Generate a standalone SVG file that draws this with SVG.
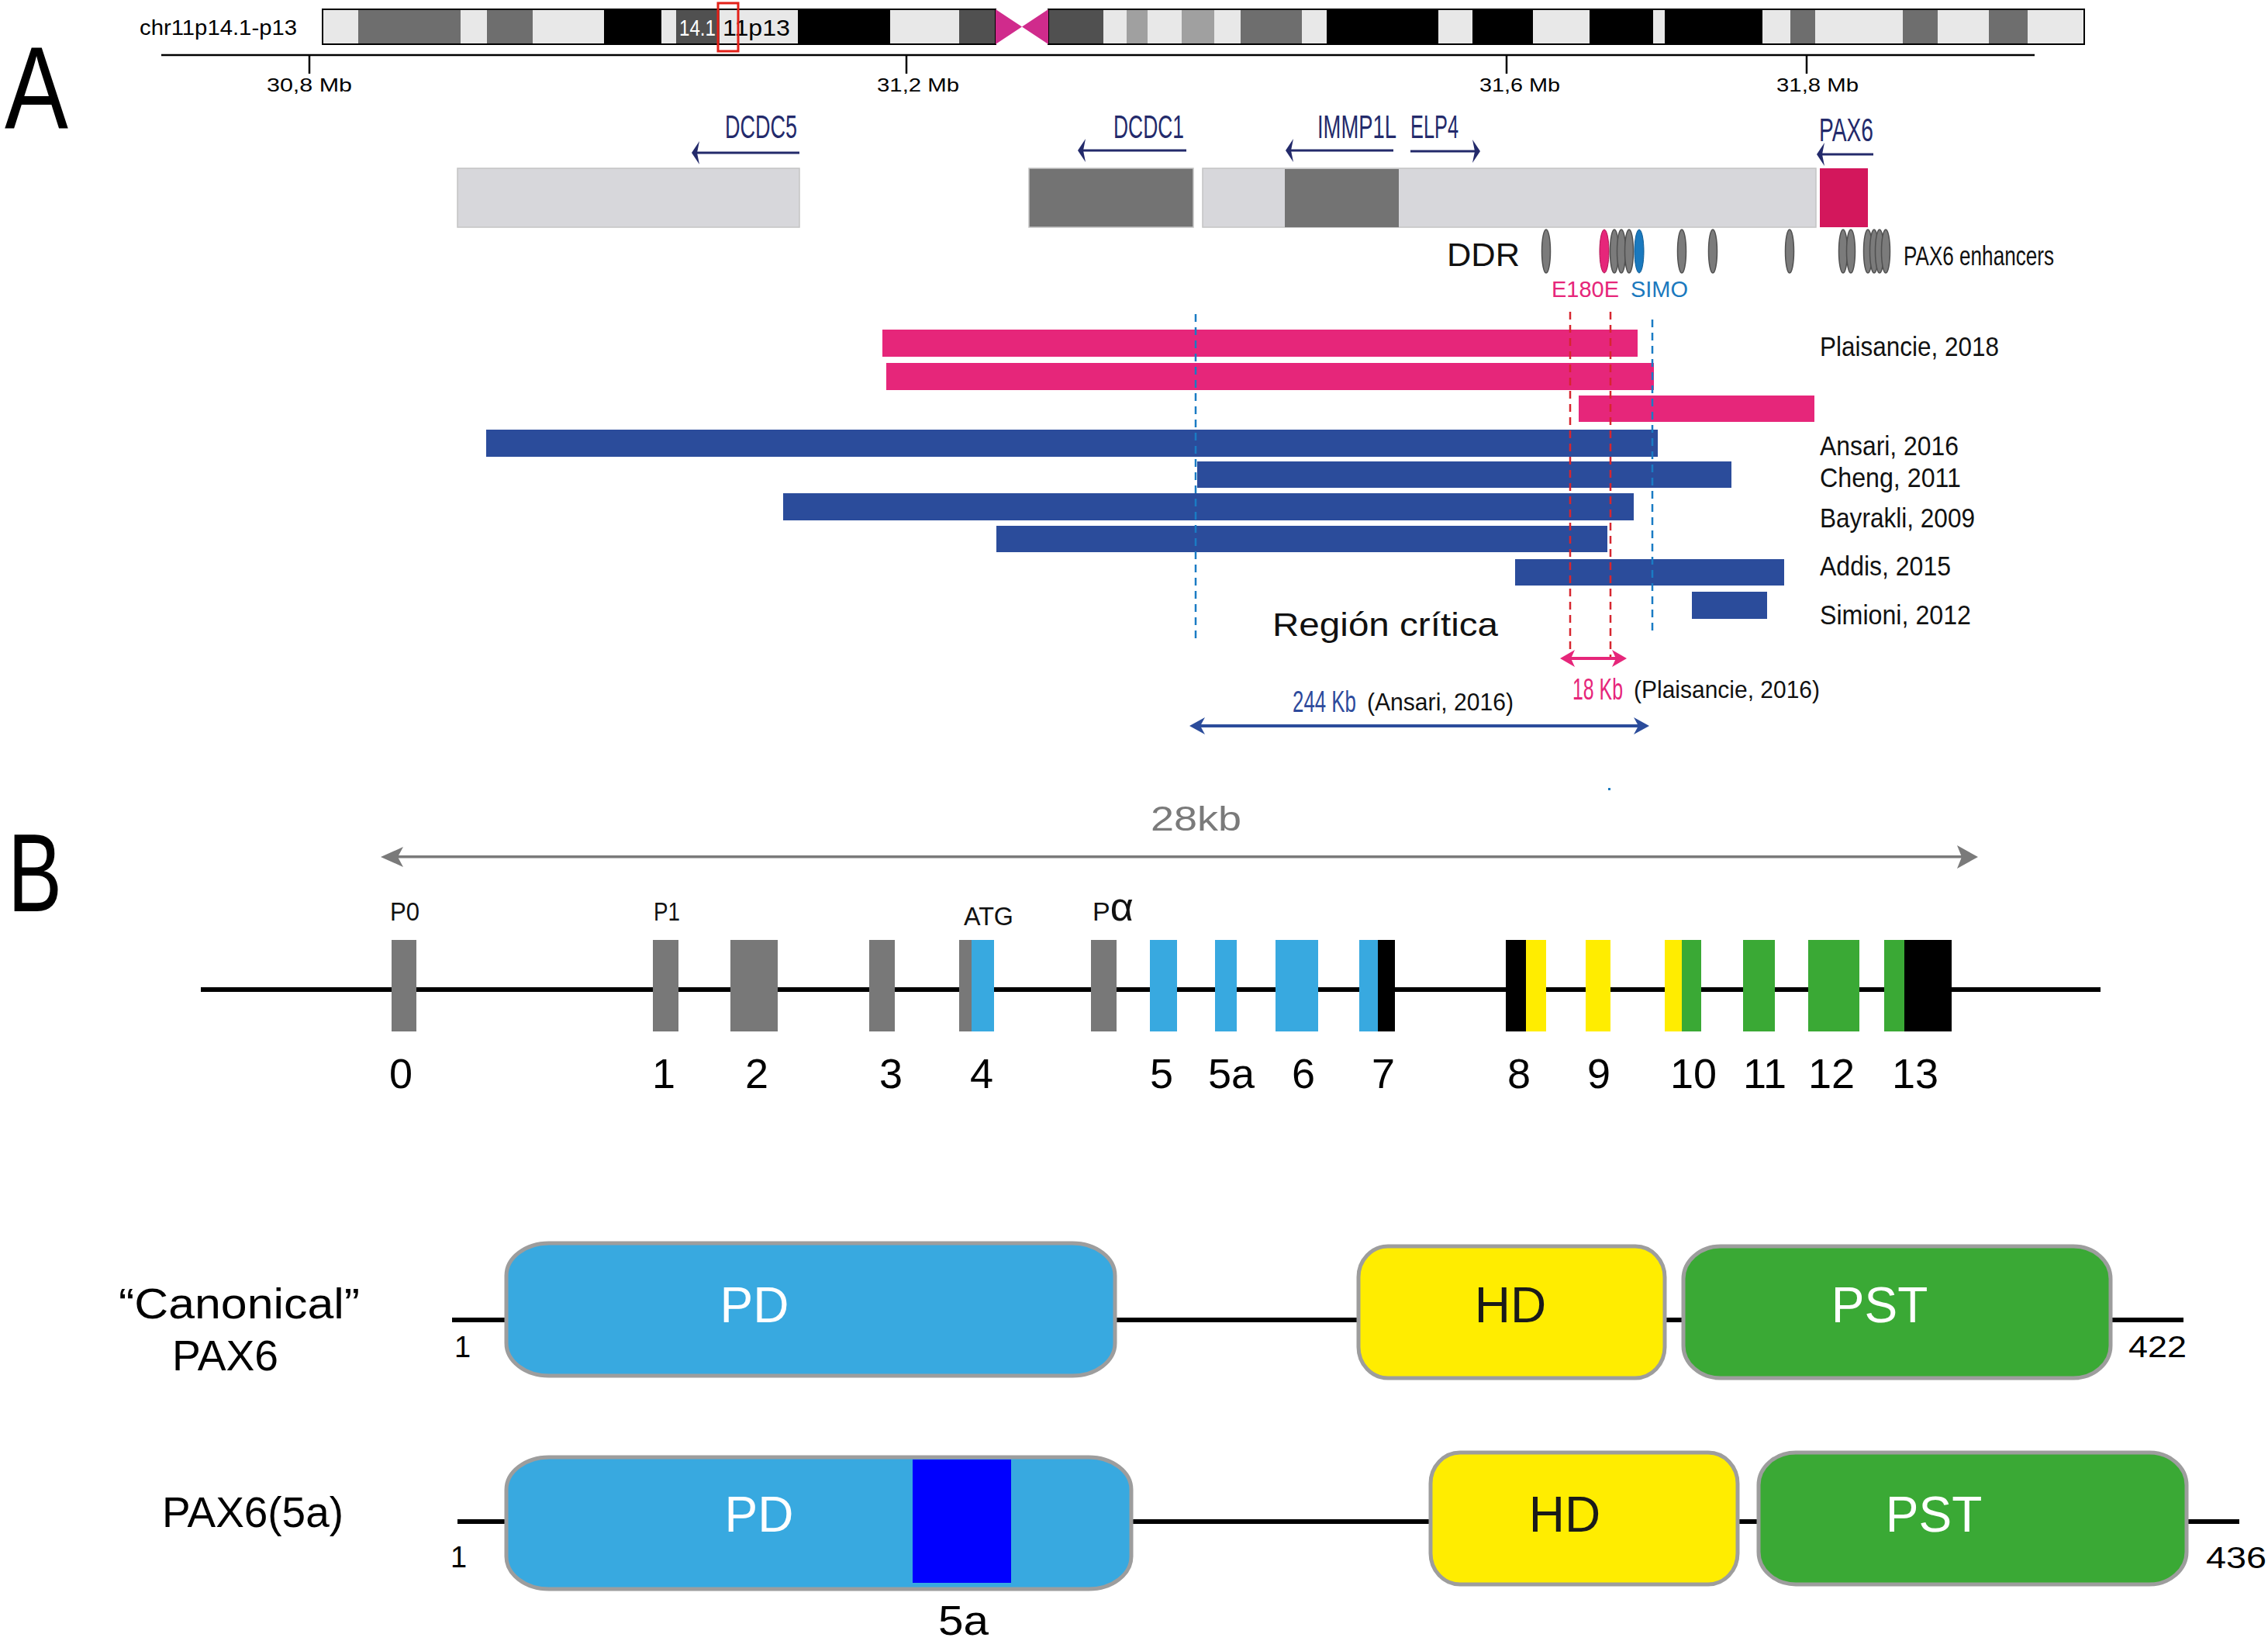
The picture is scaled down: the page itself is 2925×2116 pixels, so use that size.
<svg xmlns="http://www.w3.org/2000/svg" width="2925" height="2116" viewBox="0 0 2925 2116">
<style>
text{font-family:"Liberation Sans","Open Sans",Arial,sans-serif}
.L{fill:#e8e8e8}.G{fill:#6e6e6e}.D{fill:#505050}.M{fill:#a0a0a0}.K{fill:#000}
.tick{stroke:#000;stroke-width:2.5}
.mb{font-size:24px;fill:#000}
.gn{font-size:42px;fill:#232a6b}
.gbox{stroke:#c4c4c4;stroke-width:1.5}
.enh{fill:#7b7b7b;stroke:#505050;stroke-width:1.5}
.ref{font-size:35px;fill:#111}
.pink{fill:#e6267a}.blue{fill:#2b4c9b}
.dashb{stroke:#1a7bc4;stroke-width:2.5;stroke-dasharray:10 7;fill:none}
.dashr{stroke:#d6262f;stroke-width:2.5;stroke-dasharray:10 7;fill:none}
.exg{fill:#787878}.exb{fill:#38a9e0}.exy{fill:#ffed00}.exgr{fill:#3aa935}.exk{fill:#000}
.pl{font-size:34px;fill:#111}
.num{font-size:54px;fill:#000;text-anchor:middle}
.dom{stroke:#9d9d9d;stroke-width:5}
.dt{font-size:64px;text-anchor:middle}
.plab{font-size:56px;fill:#000}
.aa{font-size:38px;fill:#000}
</style>
<rect width="2925" height="2116" fill="#fff"/>

<text x="6" y="165" font-size="150" textLength="82" lengthAdjust="spacingAndGlyphs">A</text>
<text x="10" y="1175" font-size="142" textLength="70" lengthAdjust="spacingAndGlyphs">B</text>

<g id="chromosome">
<text x="180" y="45" font-size="28" textLength="203" lengthAdjust="spacingAndGlyphs">chr11p14.1-p13</text>
<rect class="L" x="416" y="12" width="46" height="45"/>
<rect class="G" x="462" y="12" width="132" height="45"/>
<rect class="L" x="594" y="12" width="34" height="45"/>
<rect class="G" x="628" y="12" width="59" height="45"/>
<rect class="L" x="687" y="12" width="92" height="45"/>
<rect class="K" x="779" y="12" width="74" height="45"/>
<rect class="L" x="853" y="12" width="19" height="45"/>
<rect class="D" x="872" y="12" width="56" height="45"/>
<rect class="L" x="928" y="12" width="101" height="45"/>
<rect class="K" x="1029" y="12" width="119" height="45"/>
<rect class="L" x="1148" y="12" width="89" height="45"/>
<rect class="D" x="1237" y="12" width="47" height="45"/>
<rect class="D" x="1352" y="12" width="71" height="45"/>
<rect class="L" x="1423" y="12" width="30" height="45"/>
<rect class="M" x="1453" y="12" width="27" height="45"/>
<rect class="L" x="1480" y="12" width="44" height="45"/>
<rect class="M" x="1524" y="12" width="42" height="45"/>
<rect class="L" x="1566" y="12" width="34" height="45"/>
<rect class="G" x="1600" y="12" width="79" height="45"/>
<rect class="L" x="1679" y="12" width="32" height="45"/>
<rect class="K" x="1711" y="12" width="144" height="45"/>
<rect class="L" x="1855" y="12" width="44" height="45"/>
<rect class="K" x="1899" y="12" width="78" height="45"/>
<rect class="L" x="1977" y="12" width="73" height="45"/>
<rect class="K" x="2050" y="12" width="82" height="45"/>
<rect class="L" x="2132" y="12" width="15" height="45"/>
<rect class="K" x="2147" y="12" width="126" height="45"/>
<rect class="L" x="2273" y="12" width="36" height="45"/>
<rect class="G" x="2309" y="12" width="32" height="45"/>
<rect class="L" x="2341" y="12" width="113" height="45"/>
<rect class="G" x="2454" y="12" width="45" height="45"/>
<rect class="L" x="2499" y="12" width="66" height="45"/>
<rect class="G" x="2565" y="12" width="50" height="45"/>
<rect class="L" x="2615" y="12" width="73" height="45"/>
<rect x="416" y="12" width="868" height="45" fill="none" stroke="#000" stroke-width="2"/>
<rect x="1352" y="12" width="1336" height="45" fill="none" stroke="#000" stroke-width="2"/>
<polygon points="1284,12 1318,34.5 1352,12 1352,57 1318,34.5 1284,57" fill="#d02b8c"/>
<text x="876" y="46" font-size="29" fill="#fff" textLength="47" lengthAdjust="spacingAndGlyphs">14.1</text>
<text x="932" y="46" font-size="29" fill="#000" textLength="87" lengthAdjust="spacingAndGlyphs">11p13</text>
<rect x="926" y="4" width="26" height="62" fill="none" stroke="#e32119" stroke-width="3"/>
</g>

<g id="axis">
<line x1="208" y1="71" x2="2624" y2="71" stroke="#000" stroke-width="2.5"/>
<line class="tick" x1="399" y1="71" x2="399" y2="95"/>
<line class="tick" x1="1169" y1="71" x2="1169" y2="95"/>
<line class="tick" x1="1943" y1="71" x2="1943" y2="95"/>
<line class="tick" x1="2330" y1="71" x2="2330" y2="95"/>
<text class="mb" x="344" y="118" textLength="110" lengthAdjust="spacingAndGlyphs">30,8 Mb</text>
<text class="mb" x="1131" y="118" textLength="106" lengthAdjust="spacingAndGlyphs">31,2 Mb</text>
<text class="mb" x="1908" y="118" textLength="104" lengthAdjust="spacingAndGlyphs">31,6 Mb</text>
<text class="mb" x="2291" y="118" textLength="106" lengthAdjust="spacingAndGlyphs">31,8 Mb</text>
</g>

<g id="genes">
<rect class="gbox" x="590" y="217" width="441" height="76" fill="#d7d7db"/>
<rect class="gbox" x="1327" y="217" width="212" height="76" fill="#737373"/>
<rect class="gbox" x="1551" y="217" width="791" height="76" fill="#d7d7db"/>
<rect x="1657" y="218" width="147" height="75" fill="#737373"/>
<rect x="2347" y="217" width="62" height="76" fill="#d3175c"/>
<text class="gn" x="935" y="178" textLength="93" lengthAdjust="spacingAndGlyphs">DCDC5</text>
<text class="gn" x="1436" y="178" textLength="91" lengthAdjust="spacingAndGlyphs">DCDC1</text>
<text class="gn" x="1699" y="178" textLength="102" lengthAdjust="spacingAndGlyphs">IMMP1L</text>
<text class="gn" x="1819" y="178" textLength="62" lengthAdjust="spacingAndGlyphs">ELP4</text>
<text class="gn" x="2346" y="182" textLength="70" lengthAdjust="spacingAndGlyphs">PAX6</text>
</g>

<g id="enhancers">
<ellipse class="enh" cx="1994" cy="324" rx="5.5" ry="28"/>
<ellipse cx="2069" cy="324" rx="6" ry="28" fill="#e6267a" stroke="#b0104f" stroke-width="1"/>
<ellipse class="enh" cx="2082" cy="324" rx="5.5" ry="28"/>
<ellipse class="enh" cx="2091" cy="324" rx="5.5" ry="28"/>
<ellipse class="enh" cx="2101" cy="324" rx="5.5" ry="28"/>
<ellipse cx="2114" cy="324" rx="6" ry="28" fill="#1a79be" stroke="#0d5a93" stroke-width="1"/>
<ellipse class="enh" cx="2169" cy="324" rx="5.5" ry="28"/>
<ellipse class="enh" cx="2209" cy="324" rx="5.5" ry="28"/>
<ellipse class="enh" cx="2308" cy="324" rx="5.5" ry="28"/>
<ellipse class="enh" cx="2377" cy="324" rx="5.5" ry="28"/>
<ellipse class="enh" cx="2387" cy="324" rx="5.5" ry="28"/>
<ellipse class="enh" cx="2409" cy="324" rx="5.5" ry="28"/>
<ellipse class="enh" cx="2417" cy="324" rx="5.5" ry="28"/>
<ellipse class="enh" cx="2424" cy="324" rx="5.5" ry="28"/>
<ellipse class="enh" cx="2432" cy="324" rx="5.5" ry="28"/>
<text x="1866" y="343" font-size="42" fill="#111" textLength="94" lengthAdjust="spacingAndGlyphs">DDR</text>
<text x="2455" y="342" font-size="35" fill="#111" textLength="194" lengthAdjust="spacingAndGlyphs">PAX6 enhancers</text>
<text x="2001" y="383" font-size="30" fill="#e6267a" textLength="87" lengthAdjust="spacingAndGlyphs">E180E</text>
<text x="2103" y="383" font-size="30" fill="#1a79be" textLength="74" lengthAdjust="spacingAndGlyphs">SIMO</text>
</g>

<g id="deletions">
<rect class="pink" x="1138" y="425" width="974" height="35"/>
<rect class="pink" x="1143" y="468" width="990" height="35"/>
<rect class="pink" x="2036" y="510" width="304" height="34"/>
<rect class="blue" x="627" y="554" width="1511" height="35"/>
<rect class="blue" x="1544" y="595" width="689" height="34"/>
<rect class="blue" x="1010" y="636" width="1097" height="35"/>
<rect class="blue" x="1285" y="678" width="788" height="34"/>
<rect class="blue" x="1954" y="721" width="347" height="34"/>
<rect class="blue" x="2182" y="763" width="97" height="35"/>
<text class="ref" x="2347" y="459" textLength="231" lengthAdjust="spacingAndGlyphs">Plaisancie, 2018</text>
<text class="ref" x="2347" y="587" textLength="179" lengthAdjust="spacingAndGlyphs">Ansari, 2016</text>
<text class="ref" x="2347" y="628" textLength="182" lengthAdjust="spacingAndGlyphs">Cheng, 2011</text>
<text class="ref" x="2347" y="680" textLength="200" lengthAdjust="spacingAndGlyphs">Bayrakli, 2009</text>
<text class="ref" x="2347" y="742" textLength="169" lengthAdjust="spacingAndGlyphs">Addis, 2015</text>
<text class="ref" x="2347" y="805" textLength="195" lengthAdjust="spacingAndGlyphs">Simioni, 2012</text>
<text x="1641" y="820" font-size="42" fill="#111" textLength="291" lengthAdjust="spacingAndGlyphs">Región crítica</text>
<text x="1667" y="918" font-size="38" fill="#2d4a9c" textLength="82" lengthAdjust="spacingAndGlyphs">244 Kb</text>
<text x="1763" y="916" font-size="32" fill="#111" textLength="189" lengthAdjust="spacingAndGlyphs">(Ansari, 2016)</text>
<text x="2028" y="902" font-size="38" fill="#e6267a" textLength="65" lengthAdjust="spacingAndGlyphs">18 Kb</text>
<text x="2107" y="900" font-size="32" fill="#111" textLength="240" lengthAdjust="spacingAndGlyphs">(Plaisancie, 2016)</text>
<rect x="2074" y="1016" width="3" height="3" fill="#1a79be"/>
</g>

<g id="connectors">
<line class="dashb" x1="1542" y1="405" x2="1542" y2="825"/>
<line class="dashb" x1="2131" y1="412" x2="2131" y2="820"/>
<line class="dashr" x1="2025" y1="402" x2="2025" y2="848"/>
<line class="dashr" x1="2077" y1="402" x2="2077" y2="848"/>
<g fill="#232a6b" stroke="none">
<rect x="898" y="195.5" width="133" height="3"/>
<path d="M892,197 L902,182 L899,197 L902,212 Z"/>
<rect x="1396" y="192.5" width="134" height="3"/>
<path d="M1390,194 L1400,179 L1397,194 L1400,209 Z"/>
<rect x="1664" y="192.5" width="133" height="3"/>
<path d="M1658,194 L1668,179 L1665,194 L1668,209 Z"/>
<rect x="1819" y="193.5" width="84" height="3"/>
<path d="M1909,195 L1899,180 L1902,195 L1899,210 Z"/>
<rect x="2349" y="197.5" width="67" height="3"/>
<path d="M2343,199 L2353,184 L2350,199 L2353,214 Z"/>
</g>
<g fill="#e6267a">
<rect x="2025" y="847" width="60" height="4"/>
<path d="M2012,849 L2031,838 L2026,849 L2031,860 Z"/>
<path d="M2098,849 L2079,838 L2084,849 L2079,860 Z"/>
</g>
<g fill="#2b4c9b">
<rect x="1548" y="934" width="565" height="4"/>
<path d="M1534,936 L1554,925 L1548,936 L1554,947 Z"/>
<path d="M2127,936 L2107,925 L2113,936 L2107,947 Z"/>
</g>
<g fill="#7a7a7a">
<rect x="510" y="1103" width="2022" height="3.5"/>
<path d="M491,1105 L520,1092 L513,1105 L520,1118 Z"/>
<path d="M2551,1105 L2524,1090 L2530,1105 L2524,1120 Z"/>
</g>
<line x1="259" y1="1276" x2="2709" y2="1276" stroke="#000" stroke-width="6"/>
<line x1="583" y1="1702" x2="2816" y2="1702" stroke="#000" stroke-width="6"/>
<line x1="590" y1="1962" x2="2888" y2="1962" stroke="#000" stroke-width="6"/>
</g>

<text x="1484" y="1071" font-size="44" fill="#7a7a7a" textLength="117" lengthAdjust="spacingAndGlyphs">28kb</text>

<g id="exons">
<rect class="exg" x="505" y="1212" width="32" height="118"/>
<rect class="exg" x="842" y="1212" width="33" height="118"/>
<rect class="exg" x="942" y="1212" width="61" height="118"/>
<rect class="exg" x="1121" y="1212" width="33" height="118"/>
<rect class="exg" x="1237" y="1212" width="16" height="118"/>
<rect class="exb" x="1253" y="1212" width="29" height="118"/>
<rect class="exg" x="1407" y="1212" width="33" height="118"/>
<rect class="exb" x="1483" y="1212" width="35" height="118"/>
<rect class="exb" x="1567" y="1212" width="28" height="118"/>
<rect class="exb" x="1645" y="1212" width="55" height="118"/>
<rect class="exb" x="1753" y="1212" width="24" height="118"/>
<rect class="exk" x="1777" y="1212" width="22" height="118"/>
<rect class="exk" x="1942" y="1212" width="26" height="118"/>
<rect class="exy" x="1968" y="1212" width="26" height="118"/>
<rect class="exy" x="2045" y="1212" width="32" height="118"/>
<rect class="exy" x="2147" y="1212" width="22" height="118"/>
<rect class="exgr" x="2169" y="1212" width="25" height="118"/>
<rect class="exgr" x="2248" y="1212" width="41" height="118"/>
<rect class="exgr" x="2332" y="1212" width="66" height="118"/>
<rect class="exgr" x="2430" y="1212" width="26" height="118"/>
<rect class="exk" x="2456" y="1212" width="61" height="118"/>
<text class="pl" x="503" y="1187" textLength="38" lengthAdjust="spacingAndGlyphs">P0</text>
<text class="pl" x="843" y="1187" textLength="34" lengthAdjust="spacingAndGlyphs">P1</text>
<text class="pl" x="1243" y="1193" textLength="64" lengthAdjust="spacingAndGlyphs">ATG</text>
<text class="pl" x="1409" y="1187">P<tspan font-size="52">α</tspan></text>
<text class="num" x="517" y="1403">0</text>
<text class="num" x="856" y="1403">1</text>
<text class="num" x="976" y="1403">2</text>
<text class="num" x="1149" y="1403">3</text>
<text class="num" x="1266" y="1403">4</text>
<text class="num" x="1498" y="1403">5</text>
<text class="num" x="1588" y="1403">5a</text>
<text class="num" x="1681" y="1403">6</text>
<text class="num" x="1784" y="1403">7</text>
<text class="num" x="1959" y="1403">8</text>
<text class="num" x="2062" y="1403">9</text>
<text class="num" x="2184" y="1403">10</text>
<text class="num" x="2276" y="1403">11</text>
<text class="num" x="2362" y="1403">12</text>
<text class="num" x="2470" y="1403">13</text>
</g>

<g id="canonical">
<text class="plab" x="153" y="1700" textLength="311" lengthAdjust="spacingAndGlyphs">“Canonical”</text>
<text class="plab" x="222" y="1767" textLength="137" lengthAdjust="spacingAndGlyphs">PAX6</text>
<text class="aa" x="586" y="1750">1</text>
<rect class="dom" x="653" y="1603" width="785" height="171" rx="55" ry="42" fill="#38a9e0"/>
<rect class="dom" x="1752" y="1607" width="395" height="170" rx="38" ry="40" fill="#ffed00"/>
<rect class="dom" x="2171" y="1607" width="551" height="170" rx="48" ry="42" fill="#3aa935"/>
<text class="dt" x="973" y="1705" fill="#fff">PD</text>
<text class="dt" x="1948" y="1705" fill="#1a1a1a">HD</text>
<text class="dt" x="2424" y="1705" fill="#fff">PST</text>
<text class="aa" x="2745" y="1750" textLength="75" lengthAdjust="spacingAndGlyphs">422</text>
</g>

<g id="pax6-5a">
<text class="plab" x="209" y="1969" textLength="234" lengthAdjust="spacingAndGlyphs">PAX6(5a)</text>
<text class="aa" x="581" y="2021">1</text>
<rect class="dom" x="653" y="1879" width="806" height="170" rx="55" ry="42" fill="#38a9e0"/>
<rect x="1177" y="1882" width="127" height="159" fill="#0000ff"/>
<rect class="dom" x="1845" y="1873" width="396" height="170" rx="38" ry="40" fill="#ffed00"/>
<rect class="dom" x="2268" y="1873" width="552" height="170" rx="48" ry="42" fill="#3aa935"/>
<text class="dt" x="979" y="1975" fill="#fff">PD</text>
<text class="dt" x="2018" y="1975" fill="#1a1a1a">HD</text>
<text class="dt" x="2494" y="1975" fill="#fff">PST</text>
<text class="aa" x="2845" y="2022" textLength="78" lengthAdjust="spacingAndGlyphs">436</text>
<text x="1210" y="2108" font-size="54" fill="#000" textLength="65" lengthAdjust="spacingAndGlyphs">5a</text>
</g>
</svg>
